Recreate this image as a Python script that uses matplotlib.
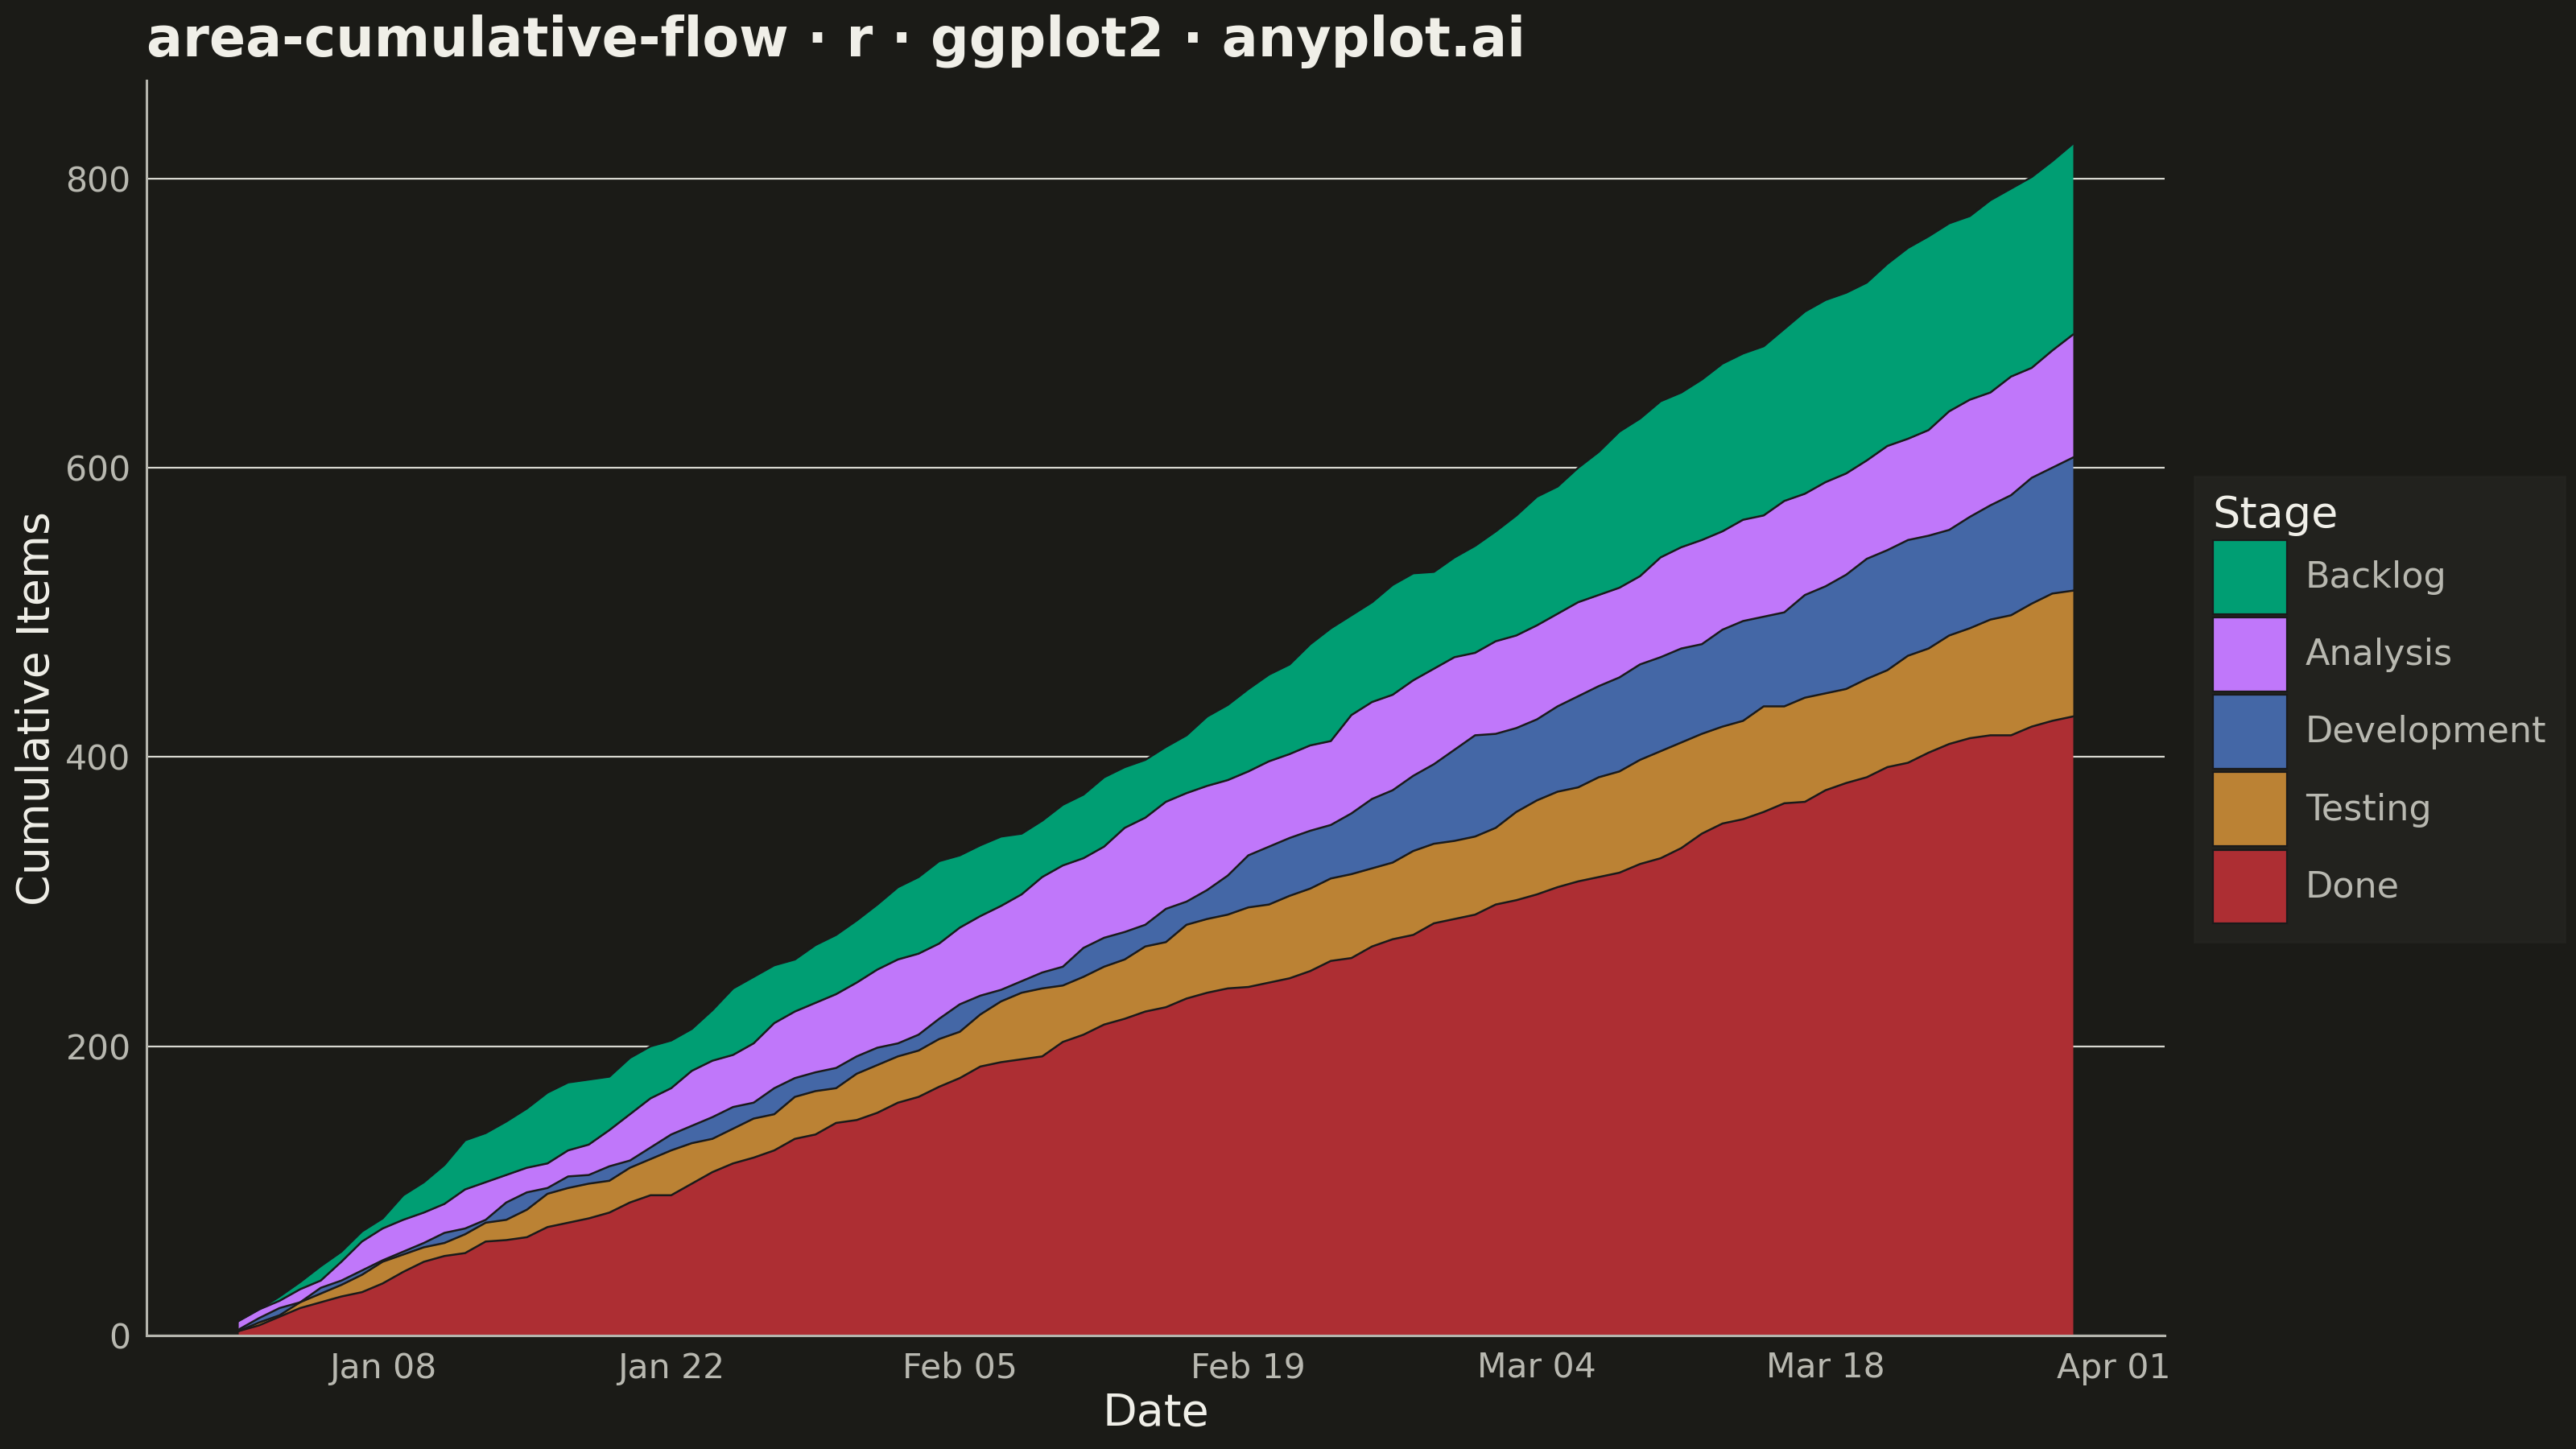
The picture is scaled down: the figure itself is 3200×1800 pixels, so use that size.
import matplotlib
matplotlib.use('Agg')
import matplotlib.pyplot as plt
from matplotlib.patches import Patch
import pandas as pd

# Here are the dates, one point per day.
dates = pd.date_range('2024-01-01', periods=90, freq='D')

# Here are the cumulative counts (each line = items that reached that stage or beyond).
done = [3, 7, 13, 19, 23, 27, 30, 36, 44, 51, 55, 57, 65, 66, 68, 75, 78, 81, 85, 92,
        97, 97, 105, 113, 119, 123, 128, 136, 139, 147, 149, 154, 161, 165, 172, 178, 186, 189, 191, 193,
        203, 208, 215, 219, 224, 227, 233, 237, 240, 241, 244, 247, 252, 259, 261, 269, 274, 277, 285, 288,
        291, 298, 301, 305, 310, 314, 317, 320, 326, 330, 337, 347, 354, 357, 362, 368, 369, 377, 382, 386,
        393, 396, 403, 409, 413, 415, 415, 421, 425, 428]
testing = [3, 9, 14, 23, 29, 35, 42, 51, 56, 61, 64, 70, 78, 80, 87, 98, 102, 105, 107, 116,
           122, 128, 133, 136, 143, 150, 153, 165, 169, 171, 181, 187, 193, 197, 205, 210, 222, 231, 237, 240,
           242, 248, 255, 260, 269, 272, 284, 288, 291, 296, 298, 304, 309, 316, 319, 323, 327, 335, 340, 342,
           345, 351, 362, 370, 376, 379, 386, 390, 398, 404, 410, 416, 421, 425, 435, 435, 441, 444, 447, 454,
           460, 470, 475, 484, 489, 495, 498, 506, 513, 515]
development = [4, 12, 19, 23, 33, 38, 45, 52, 58, 64, 71, 74, 80, 92, 99, 102, 110, 111, 117, 121,
               130, 139, 145, 151, 158, 161, 171, 178, 182, 185, 193, 199, 202, 208, 219, 229, 235, 239, 245, 251,
               255, 268, 275, 279, 284, 295, 300, 308, 318, 332, 338, 344, 349, 353, 361, 371, 377, 387, 395, 405,
               415, 416, 420, 426, 435, 442, 449, 455, 464, 469, 475, 478, 488, 494, 497, 500, 512, 518, 526, 537,
               543, 550, 553, 557, 566, 574, 581, 593, 600, 607]
analysis = [10, 18, 24, 32, 38, 51, 65, 74, 80, 85, 91, 101, 106, 111, 116, 119, 128, 132, 142, 153,
            164, 171, 183, 190, 194, 202, 216, 224, 230, 236, 244, 253, 260, 264, 271, 282, 290, 297, 305, 317,
            325, 330, 338, 351, 358, 369, 375, 380, 384, 390, 397, 402, 408, 411, 429, 438, 443, 453, 461, 469,
            472, 480, 484, 491, 499, 507, 512, 517, 525, 538, 545, 550, 556, 564, 567, 577, 582, 590, 596, 605,
            615, 620, 626, 639, 647, 652, 663, 669, 681, 692]
backlog = [10, 18, 27, 37, 48, 58, 72, 81, 97, 106, 118, 135, 140, 148, 157, 168, 175, 177, 179, 192,
           200, 204, 212, 225, 240, 248, 256, 260, 270, 277, 287, 298, 310, 317, 328, 332, 339, 345, 347, 356,
           367, 374, 386, 393, 398, 407, 415, 428, 436, 447, 457, 464, 478, 489, 498, 507, 519, 527, 528, 538,
           546, 556, 567, 580, 587, 600, 611, 625, 634, 646, 652, 661, 672, 679, 684, 696, 708, 716, 721, 728,
           741, 752, 760, 769, 774, 785, 793, 801, 812, 824]

stages = ['Backlog', 'Analysis', 'Development', 'Testing', 'Done']
colors = {'Backlog': '#009E73', 'Analysis': '#C077FA', 'Development': '#4467A6',
          'Testing': '#BB8234', 'Done': '#AD2E33'}

bg = '#1B1B17'
text_main = '#F0EFE8'
text_soft = '#B8B8B0'
outline = '#1A1A1A'

plt.rcParams['font.family'] = ['DejaVu Sans']

fig = plt.figure(figsize=(16, 9), dpi=200, facecolor=bg)
ax = fig.add_axes([0.0569, 0.0783, 0.7834, 0.8661], facecolor=bg)

# Here it draws the bands from bottom (Done) to top (Backlog).
zero = [0] * len(done)
bands = [('Done', zero, done), ('Testing', done, testing), ('Development', testing, development),
         ('Analysis', development, analysis), ('Backlog', analysis, backlog)]
for name, lower, upper in bands:
    ax.fill_between(dates, lower, upper, color=colors[name], linewidth=0, zorder=2)
for line in [done, testing, development, analysis, backlog]:
    ax.plot(dates, line, color=outline, linewidth=0.9, zorder=3)

# Here are the axes limits (ggplot style padding on x).
span = dates[-1] - dates[0]
ax.set_xlim(dates[0] - span * 0.05, dates[-1] + span * 0.05)
ax.set_ylim(0, max(backlog) * 1.053)

ticks = pd.to_datetime(['2024-01-08', '2024-01-22', '2024-02-05', '2024-02-19',
                        '2024-03-04', '2024-03-18', '2024-04-01'])
ax.set_xticks(ticks)
ax.set_xticklabels([t.strftime('%b %d') for t in ticks])
ax.set_yticks([0, 200, 400, 600, 800])

ax.grid(axis='y', color='#D8D8D0', linewidth=0.8, zorder=1)
ax.set_axisbelow(True)
for side in ['top', 'right']:
    ax.spines[side].set_visible(False)
for side in ['left', 'bottom']:
    ax.spines[side].set_color('#B5B5AD')
    ax.spines[side].set_linewidth(1.1)
ax.tick_params(length=0, labelsize=15.3, labelcolor=text_soft, pad=7)

# Here are the labels.
ax.set_xlabel('Date', fontsize=20, color=text_main, labelpad=3)
ax.set_ylabel('Cumulative Items', fontsize=20, color=text_main, labelpad=3)
fig.text(0.0569, 0.961, 'area-cumulative-flow · r · ggplot2 · anyplot.ai',
         fontsize=24, fontweight='bold', color=text_main, ha='left', va='baseline')

# Here is the legend (square keys).
handles = [Patch(facecolor=colors[s], edgecolor=outline, linewidth=0.8) for s in stages]
leg = fig.legend(handles, stages, title='Stage', loc='center left',
                 bbox_to_anchor=(0.852, 0.5106), bbox_transform=fig.transFigure,
                 fontsize=16, title_fontsize=19.5, frameon=True, fancybox=False,
                 handlelength=2.07, handleheight=2.8, handletextpad=0.52,
                 labelspacing=0.1, borderpad=0.5, borderaxespad=0)
leg.get_frame().set_facecolor('#242420')
leg.get_frame().set_edgecolor('#242420')
leg.get_title().set_color(text_main)
leg._legend_box.align = 'left'
for t in leg.get_texts():
    t.set_color(text_soft)

plt.savefig('out.png', dpi=200, facecolor=bg)
